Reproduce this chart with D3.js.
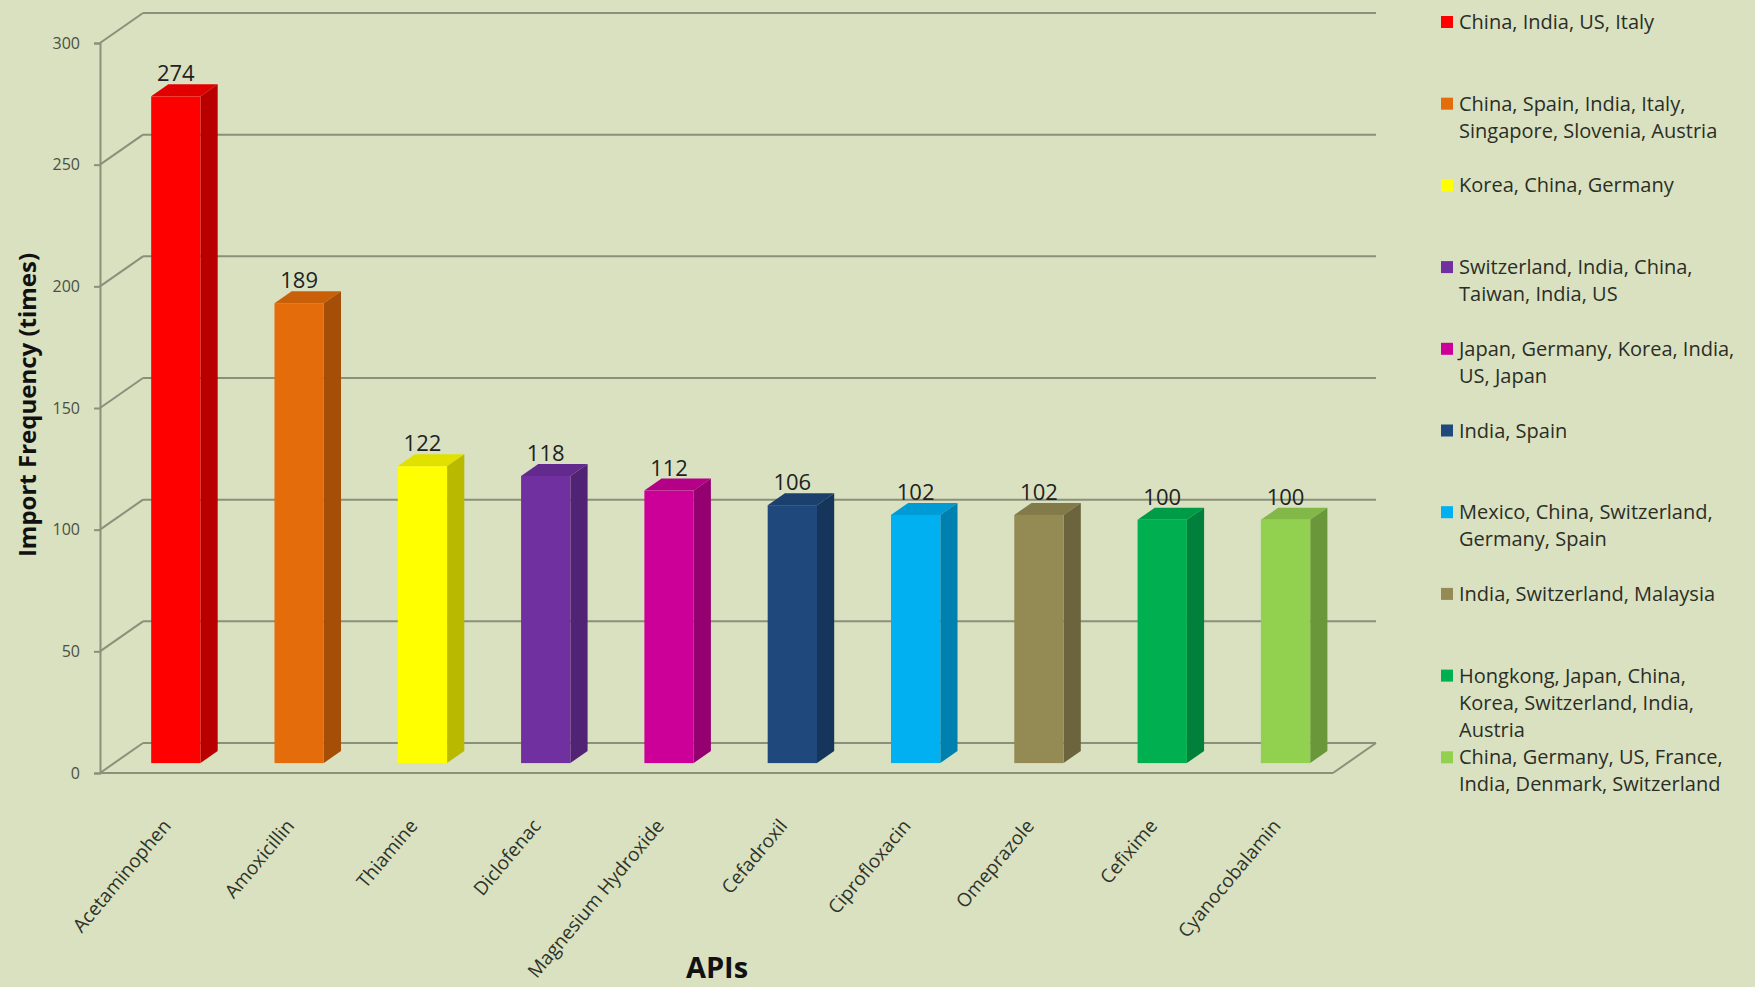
<!DOCTYPE html>
<html lang="en">
<head>
<meta charset="utf-8">
<title>API import frequency</title>
<script src="https://cdn.jsdelivr.net/npm/d3@7"></script>
<style>
  body { margin: 0; background: #d9e1c1; }
  svg { display: block; font-family: "Open Sans", sans-serif; }
</style>
</head>
<body>
<script>
// data
var apis = ["Acetaminophen", "Amoxicillin", "Thiamine", "Diclofenac", "Magnesium Hydroxide",
            "Cefadroxil", "Ciprofloxacin", "Omeprazole", "Cefixime", "Cyanocobalamin"];
var frequency = [274, 189, 122, 118, 112, 106, 102, 102, 100, 100];
var yTicks = [0, 50, 100, 150, 200, 250, 300];
var barColors = ["#ff0000", "#e46c0a", "#ffff00", "#7030a0", "#cc0099",
                 "#1f497d", "#00b0f0", "#948a54", "#00b050", "#92d050"];
var origins = [
  ["China, India, US, Italy"],
  ["China, Spain, India, Italy,", "Singapore, Slovenia, Austria"],
  ["Korea, China, Germany"],
  ["Switzerland, India, China,", "Taiwan, India, US"],
  ["Japan, Germany, Korea, India,", "US, Japan"],
  ["India, Spain"],
  ["Mexico, China, Switzerland,", "Germany, Spain"],
  ["India, Switzerland, Malaysia"],
  ["Hongkong, Japan, China,", "Korea, Switzerland, India,", "Austria"],
  ["China, Germany, US, France,", "India, Denmark, Switzerland"]
];

var w = 1755, h = 987;
// depth of the 3d box (offset of the back wall)
var depthX = 43, depthY = -30;
var d0 = 0.33, d1 = 0.73;   // bars sit in the middle of the depth
var gridColor = "#8a907a";

var svg = d3.select("body").append("svg")
    .attr("width", w)
    .attr("height", h);

svg.append("rect").attr("width", w).attr("height", h).attr("fill", "#d9e1c1");

var x = d3.scaleBand()
    .domain(apis)
    .range([100, 1333])
    .paddingInner(0.6)
    .paddingOuter(0.3);

var y = d3.scaleLinear()
    .domain([0, 300])
    .range([773, 43]);

// back wall gridlines + side wall diagonals
var grid = svg.append("g");
grid.selectAll("line.back")
    .data(yTicks)
    .enter()
    .append("line")
    .attr("x1", 100 + depthX)
    .attr("x2", 1333 + depthX)
    .attr("y1", function(d) { return y(d) + depthY; })
    .attr("y2", function(d) { return y(d) + depthY; })
    .attr("stroke", gridColor)
    .attr("stroke-width", 2);
grid.selectAll("line.side")
    .data(yTicks)
    .enter()
    .append("line")
    .attr("x1", 100)
    .attr("x2", 100 + depthX)
    .attr("y1", function(d) { return y(d); })
    .attr("y2", function(d) { return y(d) + depthY; })
    .attr("stroke", gridColor)
    .attr("stroke-width", 2);
// floor front edge and right edge
grid.append("line")
    .attr("x1", 100).attr("x2", 1333)
    .attr("y1", y(0)).attr("y2", y(0))
    .attr("stroke", gridColor).attr("stroke-width", 2);
grid.append("line")
    .attr("x1", 1333).attr("x2", 1333 + depthX)
    .attr("y1", y(0)).attr("y2", y(0) + depthY)
    .attr("stroke", gridColor).attr("stroke-width", 2);

// y axis
var yAxis = svg.append("g")
    .attr("transform", "translate(100,0)")
    .call(d3.axisLeft(y).tickValues(yTicks).tickSize(6).tickPadding(14));
yAxis.select(".domain").attr("stroke", gridColor).attr("stroke-width", 2);
yAxis.selectAll(".tick line").attr("stroke", gridColor).attr("stroke-width", 2);
yAxis.selectAll(".tick text")
    .attr("font-size", "16px")
    .attr("font-family", "Open Sans, sans-serif")
    .attr("fill", "#4b5040");

// bars
var bars = svg.selectAll("g.bar")
    .data(apis)
    .enter()
    .append("g")
    .attr("class", "bar");

function pt(px, py, d) {
  return (px + depthX * d) + "," + (py + depthY * d);
}

bars.append("polygon")   // top
    .attr("points", function(d, i) {
      var xl = x(d), xr = x(d) + x.bandwidth(), yt = y(frequency[i]);
      return [pt(xl, yt, d0), pt(xl, yt, d1), pt(xr, yt, d1), pt(xr, yt, d0)].join(" ");
    })
    .attr("fill", function(d, i) { return d3.color(barColors[i]).darker(0.35); });

bars.append("polygon")   // side
    .attr("points", function(d, i) {
      var xr = x(d) + x.bandwidth(), yt = y(frequency[i]), yb = y(0);
      return [pt(xr, yt, d0), pt(xr, yt, d1), pt(xr, yb, d1), pt(xr, yb, d0)].join(" ");
    })
    .attr("fill", function(d, i) { return d3.color(barColors[i]).darker(0.9); });

bars.append("rect")      // front
    .attr("x", function(d) { return x(d) + depthX * d0; })
    .attr("y", function(d, i) { return y(frequency[i]) + depthY * d0; })
    .attr("width", x.bandwidth())
    .attr("height", function(d, i) { return y(0) - y(frequency[i]); })
    .attr("fill", function(d, i) { return barColors[i]; });

// value labels
svg.selectAll("text.value")
    .data(apis)
    .enter()
    .append("text")
    .text(function(d, i) { return frequency[i]; })
    .attr("x", function(d) { return x(d) + depthX * d0 + x.bandwidth() / 2; })
    .attr("y", function(d, i) { return y(frequency[i]) + depthY * d0 - 15; })
    .attr("text-anchor", "middle")
    .attr("font-size", "22px")
    .attr("fill", "#222");

// category labels
svg.selectAll("text.cat")
    .data(apis)
    .enter()
    .append("text")
    .text(function(d) { return d; })
    .attr("transform", function(d) {
      return "translate(" + (x(d) + depthX * d0 + x.bandwidth() / 2 - 9) + ",822) rotate(-50)";
    })
    .attr("text-anchor", "end")
    .attr("dy", "0.35em")
    .attr("font-size", "19px")
    .attr("fill", "#2e3328");

// axis titles
svg.append("text")
    .text("Import Frequency (times)")
    .attr("transform", "translate(36,405) rotate(-90)")
    .attr("text-anchor", "middle")
    .attr("font-size", "24px")
    .attr("font-weight", "bold")
    .attr("fill", "#111");
svg.append("text")
    .text("APIs")
    .attr("x", 717)
    .attr("y", 978)
    .attr("text-anchor", "middle")
    .attr("font-size", "29px")
    .attr("font-weight", "bold")
    .attr("fill", "#111");

// legend
var legend = svg.selectAll("g.legend")
    .data(origins)
    .enter()
    .append("g")
    .attr("transform", function(d, i) { return "translate(1441," + (22 + i * 81.7) + ")"; });
legend.append("rect")
    .attr("x", 0).attr("y", -6)
    .attr("width", 12).attr("height", 12)
    .attr("fill", function(d, i) { return barColors[i]; });
legend.each(function(lines) {
  d3.select(this).selectAll("text")
    .data(lines)
    .enter()
    .append("text")
    .text(function(t) { return t; })
    .attr("x", 18)
    .attr("y", function(t, j) { return j * 27; })
    .attr("dy", "0.35em")
    .attr("font-size", "20px")
    .attr("fill", "#2b2e26");
});
</script>
</body>
</html>
